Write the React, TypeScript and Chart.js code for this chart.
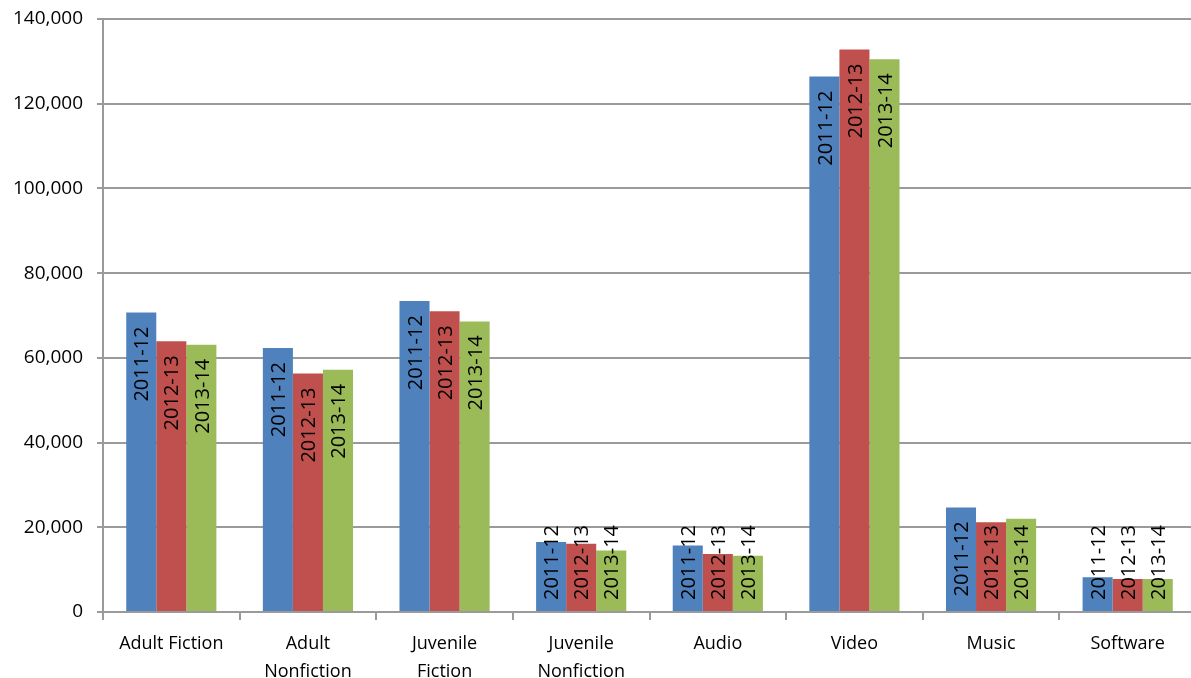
import { useEffect, useRef } from "react";
import { Chart, registerables } from "chart.js";

Chart.register(...registerables);

// Circulation by material type, three fiscal years
const categories: string[][] = [
  ["Adult Fiction"],
  ["Adult", "Nonfiction"],
  ["Juvenile", "Fiction"],
  ["Juvenile", "Nonfiction"],
  ["Audio"],
  ["Video"],
  ["Music"],
  ["Software"],
];
const seriesNames = ["2011-12", "2012-13", "2013-14"];
const values201112 = [70700, 62300, 73400, 16500, 15700, 126400, 24700, 8200];
const values201213 = [63900, 56300, 71000, 16100, 13700, 132800, 21200, 7800];
const values201314 = [63100, 57200, 68600, 14500, 13300, 130500, 22000, 7800];
const seriesColors = ["#4F81BD", "#C0504D", "#9BBB59"];
const yMin = 0;
const yMax = 140000;
const yStep = 20000;

const FONT = "'Open Sans', 'Liberation Sans', sans-serif";
const GRID = "#9a9a9a";

// Writes each bar's series name vertically, just inside the bar's top end;
// short bars get the label lifted to sit a little above the baseline.
const barLabels = {
  id: "barLabels",
  afterDatasetsDraw(chart: any) {
    const ctx = chart.ctx as CanvasRenderingContext2D;
    const base = chart.scales.y.getPixelForValue(0);
    const size = 20;
    ctx.save();
    ctx.font = `${size}px ${FONT}`;
    ctx.fillStyle = "#000";
    ctx.textAlign = "right";
    ctx.textBaseline = "alphabetic";
    const cap = size * 0.714;
    chart.data.datasets.forEach((ds: any, di: number) => {
      const meta = chart.getDatasetMeta(di);
      meta.data.forEach((bar: any) => {
        const text = ds.label as string;
        const len = ctx.measureText(text).width;
        let top = bar.y + 14;
        if (top + len > base - 12) top = base - 12 - len;
        ctx.save();
        ctx.translate(bar.x, top);
        ctx.rotate(-Math.PI / 2);
        ctx.fillText(text, 0, cap / 2);
        ctx.restore();
      });
    });
    ctx.restore();
  },
};

export default function App() {
  const ref = useRef<HTMLCanvasElement | null>(null);

  useEffect(() => {
    if (!ref.current) return;
    const seriesValues = [values201112, values201213, values201314];
    const chart = new Chart(ref.current, {
      type: "bar",
      data: {
        labels: categories,
        datasets: seriesNames.map((name, i) => ({
          label: name,
          data: seriesValues[i],
          backgroundColor: seriesColors[i],
          borderWidth: 0,
          categoryPercentage: 0.66,
          barPercentage: 1,
        })),
      },
      options: {
        responsive: false,
        animation: false,
        devicePixelRatio: 1,
        layout: { padding: { top: 19, right: 4, left: 0, bottom: 0 } },
        plugins: {
          legend: { display: false },
          tooltip: { enabled: false },
        },
        scales: {
          x: {
            grid: {
              display: true,
              drawOnChartArea: false,
              drawTicks: true,
              tickLength: 8,
              color: GRID,
              lineWidth: 2,
              offset: true,
            },
            border: { display: true, color: GRID, width: 2 },
            ticks: {
              font: { family: FONT, size: 18, lineHeight: 1.55 },
              color: "#000",
              padding: 10,
              maxRotation: 0,
              autoSkip: false,
            },
            afterFit(scale: any) {
              scale.height = 66;
            },
          },
          y: {
            min: yMin,
            max: yMax,
            ticks: {
              stepSize: yStep,
              // single-line labels: a small line height keeps the plot top tight
              font: { family: FONT, size: 19, lineHeight: 0.5 },
              color: "#000",
              padding: 14,
              callback: (v: any) => Number(v).toLocaleString("en-US"),
            },
            grid: { color: GRID, tickLength: 6, lineWidth: 2 },
            border: { display: true, color: GRID, width: 2 },
            afterFit(scale: any) {
              scale.width = 103;
            },
          },
        },
      },
      plugins: [barLabels],
    });
    return () => chart.destroy();
  }, []);

  return (
    <div
      style={{
        position: "fixed",
        left: 0,
        top: 0,
        width: 1191,
        height: 678,
        overflow: "hidden",
        background: "#fff",
      }}
    >
      <canvas ref={ref} width={1200} height={678} style={{ display: "block" }} />
    </div>
  );
}
